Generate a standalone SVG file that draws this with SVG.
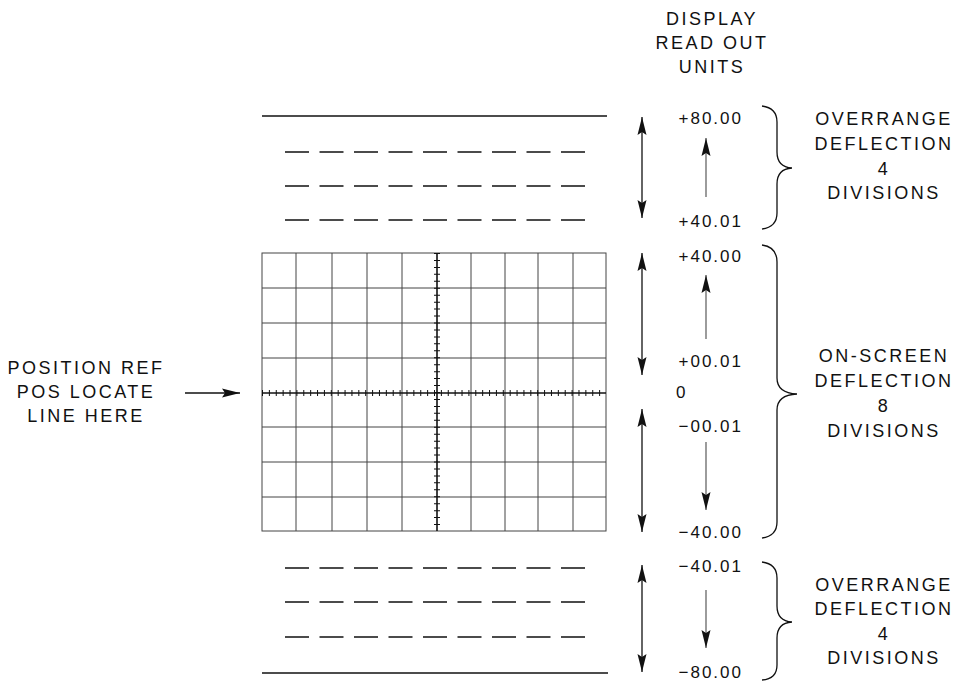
<svg xmlns="http://www.w3.org/2000/svg" width="958" height="681" viewBox="0 0 958 681">
<defs>
<marker id="ah" viewBox="0 0 18 10" refX="18" refY="5" markerWidth="18" markerHeight="10" markerUnits="userSpaceOnUse" orient="auto-start-reverse">
<path d="M0,0.5 L18,5 L0,9.5 L3,5 z" fill="#111"/>
</marker>
</defs>
<style>
text{font-family:"Liberation Sans",Arial,Helvetica,sans-serif;fill:#111}
.lbl{font-size:18px;letter-spacing:2.5px;text-anchor:middle}
.val{font-size:17px;letter-spacing:2px;text-anchor:end}
.solid{stroke:#111;stroke-width:1.5;fill:none}
.dash{stroke:#111;stroke-width:1.5;stroke-dasharray:24 10.5;fill:none}
.grid{stroke:#444;stroke-width:1;fill:none}
.outer{stroke:#111;stroke-width:1.3;fill:none;marker-start:url(#ah);marker-end:url(#ah)}
.inner{stroke:#666;stroke-width:1.3;fill:none;marker-end:url(#ah)}
.brace{stroke:#111;stroke-width:1.3;fill:none}
</style>

<g id="header">
<text class="lbl" x="712" y="25">DISPLAY</text>
<text class="lbl" x="712" y="49">READ OUT</text>
<text class="lbl" x="712" y="73">UNITS</text>
</g>

<g id="overrange-top">
<line class="solid" x1="262" y1="116" x2="607" y2="116"/>
<line class="dash" x1="285" y1="152" x2="590" y2="152"/>
<line class="dash" x1="285" y1="186" x2="590" y2="186"/>
<line class="dash" x1="285" y1="220" x2="590" y2="220"/>
</g>

<g id="screen">
<rect class="grid" x="262" y="253" width="344" height="278" stroke-width="1.5"/>
<path class="grid" d="M296,253V531M332,253V531M367,253V531M402,253V531M471,253V531M505,253V531M538,253V531M573,253V531M262,288H606M262,323H606M262,358H606M262,427H606M262,462H606M262,497H606"/>
<line x1="437" y1="253" x2="437" y2="531" stroke="#111" stroke-width="1.6"/>
<line x1="262" y1="393" x2="606" y2="393" stroke="#111" stroke-width="1.6"/>
<line x1="437" y1="253" x2="437" y2="531" stroke="#111" stroke-width="6" stroke-dasharray="1 5.95"/>
<line x1="262" y1="393" x2="606" y2="393" stroke="#111" stroke-width="6" stroke-dasharray="1 5.88"/>
</g>

<g id="overrange-bottom">
<line class="dash" x1="285" y1="568" x2="590" y2="568"/>
<line class="dash" x1="285" y1="602" x2="590" y2="602"/>
<line class="dash" x1="285" y1="637" x2="590" y2="637"/>
<line class="solid" x1="262" y1="673" x2="608" y2="673"/>
</g>

<g id="position-ref">
<text class="lbl" x="86" y="374">POSITION REF</text>
<text class="lbl" x="86" y="398">POS LOCATE</text>
<text class="lbl" x="86" y="422">LINE HERE</text>
</g>

<g id="connectors">
<line x1="185" y1="393" x2="240" y2="393" stroke="#111" stroke-width="1.3" marker-end="url(#ah)"/>
<line class="outer" x1="642" y1="117" x2="642" y2="218"/>
<line class="outer" x1="642" y1="253" x2="642" y2="375"/>
<line class="outer" x1="642" y1="409" x2="642" y2="532"/>
<line class="outer" x1="642" y1="565" x2="642" y2="672"/>
<line class="inner" x1="706" y1="197" x2="706" y2="138"/>
<line class="inner" x1="706" y1="339" x2="706" y2="275"/>
<line class="inner" x1="706" y1="442" x2="706" y2="510"/>
<line class="inner" x1="706" y1="590" x2="706" y2="648"/>
</g>

<g id="readout-values">
<text class="val" x="743" y="124">+80.00</text>
<text class="val" x="743" y="227">+40.01</text>
<text class="val" x="743" y="262">+40.00</text>
<text class="val" x="743" y="367">+00.01</text>
<text x="676" y="398" style="font-size:17px">0</text>
<text class="val" x="743" y="432">−00.01</text>
<text class="val" x="743" y="538">−40.00</text>
<text class="val" x="743" y="572">−40.01</text>
<text class="val" x="743" y="678">−80.00</text>
</g>

<g id="brace-top">
<path class="brace" d="M762,106 Q777,108 777,122 L777,152 Q777,167 792,168 Q777,169 777,184 L777,213 Q777,227 762,229"/>
<text class="lbl" x="884" y="125">OVERRANGE</text>
<text class="lbl" x="884" y="150">DEFLECTION</text>
<text class="lbl" x="884" y="175">4</text>
<text class="lbl" x="884" y="199">DIVISIONS</text>
</g>

<g id="brace-middle">
<path class="brace" d="M762,245 Q777,247 777,262 L777,378 Q777,393 797,394 Q777,395 777,410 L777,522 Q777,536 762,538"/>
<text class="lbl" x="884" y="362">ON-SCREEN</text>
<text class="lbl" x="884" y="387">DEFLECTION</text>
<text class="lbl" x="884" y="412">8</text>
<text class="lbl" x="884" y="437">DIVISIONS</text>
</g>

<g id="brace-bottom">
<path class="brace" d="M762,562 Q777,564 777,578 L777,606 Q777,621 792,622 Q777,623 777,638 L777,665 Q777,679 762,680"/>
<text class="lbl" x="884" y="591">OVERRANGE</text>
<text class="lbl" x="884" y="615">DEFLECTION</text>
<text class="lbl" x="884" y="640">4</text>
<text class="lbl" x="884" y="664">DIVISIONS</text>
</g>
</svg>
